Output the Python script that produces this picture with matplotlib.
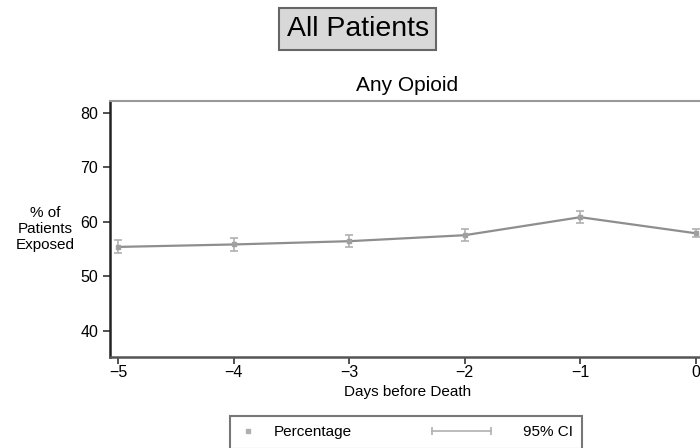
import matplotlib
matplotlib.use("Agg")
import matplotlib.pyplot as plt
from matplotlib.lines import Line2D
from matplotlib.legend_handler import HandlerLine2D

plt.rcParams['font.family'] = ['Liberation Sans', 'DejaVu Sans']

# share of patients exposed to any opioid, by day before death
days = [-5, -4, -3, -2, -1, 0]
pct = [55.4, 55.85, 56.45, 57.55, 60.85, 57.9]
ci_lo = [54.2, 54.6, 55.3, 56.4, 59.8, 57.2]
ci_hi = [56.6, 57.1, 57.6, 58.7, 61.9, 58.6]
yticks = [40, 50, 60, 70, 80]

LEG_FS = 11


class LeftMarker(HandlerLine2D):
    # single key marker sitting at the left end of the key
    def get_xdata(self, legend, xdescent, ydescent, width, height, fontsize):
        xd, xm = super().get_xdata(legend, xdescent, ydescent, width, height, fontsize)
        return xd, [-xdescent + 0.12 * fontsize]


class WideCI(HandlerLine2D):
    # CI key: a capped line reaching left of the short key box
    def get_xdata(self, legend, xdescent, ydescent, width, height, fontsize):
        x0 = -xdescent - 3.7 * fontsize
        x1 = -xdescent + 0.2 * fontsize
        return [x0, x1], [x0, x1]


fig = plt.figure(figsize=(7, 4.48), dpi=100)
ax = fig.add_axes([0.157, 0.203, 0.85, 0.572])

err_lo = [p - l for p, l in zip(pct, ci_lo)]
err_hi = [h - p for p, h in zip(pct, ci_hi)]
ax.errorbar(days, pct, yerr=[err_lo, err_hi], fmt='none', ecolor='#b0b0b0',
            elinewidth=1.2, capsize=2.7, capthick=1.2, zorder=2)
ax.plot(days, pct, color='#8e8e8e', lw=1.6, marker='s', ms=3,
        mfc='#a0a0a0', mec='#a0a0a0', zorder=3)

ax.set_xlim(-5.07, 0.078)
ax.set_ylim(35.2, 82.2)
ax.set_xticks(days)
ax.set_xticklabels(['\u2212%d' % -d if d else '0' for d in days])
ax.set_yticks(yticks)
ax.tick_params(direction='out', length=5, width=1.2, color='#333333',
               labelsize=11.5)
ax.tick_params(axis='x', pad=1)

ax.spines['left'].set_color('#222222')
ax.spines['left'].set_linewidth(1.8)
ax.spines['bottom'].set_color('#555555')
ax.spines['bottom'].set_linewidth(1.8)
ax.spines['top'].set_color('#999999')
ax.spines['top'].set_linewidth(1.5)
ax.spines['right'].set_color('#999999')

ax.set_title('Any Opioid', fontsize=15, pad=7)
ax.set_xlabel('Days before Death', fontsize=11, labelpad=3)
ax.set_ylabel('% of\nPatients\nExposed', fontsize=11, rotation=0,
              ha='center', va='center', linespacing=1.15, labelpad=25)

fig.text(0.511, 0.935, 'All Patients', fontsize=20.5, ha='center', va='center',
         bbox=dict(boxstyle='square,pad=0.27', facecolor='#d8d8d8',
                   edgecolor='#666666', linewidth=1.5))

h_pct = Line2D([], [], ls='none', marker='s', ms=2.5, color='#b0b0b0')
h_ci = Line2D([], [], color='#b0b0b0', lw=1.2, marker='|', ms=6, mew=1.2)
leg = fig.legend([h_pct, h_ci], ['Percentage', '95% CI'], ncol=2,
                 loc='upper center', bbox_to_anchor=(0.580, 0.088),
                 fontsize=LEG_FS, frameon=True, fancybox=False, framealpha=1,
                 edgecolor='#777777', handlelength=1.2, handletextpad=1.1,
                 columnspacing=8.9, borderpad=0.6,
                 handler_map={h_pct: LeftMarker(numpoints=1),
                              h_ci: WideCI(numpoints=2)})
leg.get_frame().set_linewidth(1.5)

fig.savefig('out.png', dpi=100)
